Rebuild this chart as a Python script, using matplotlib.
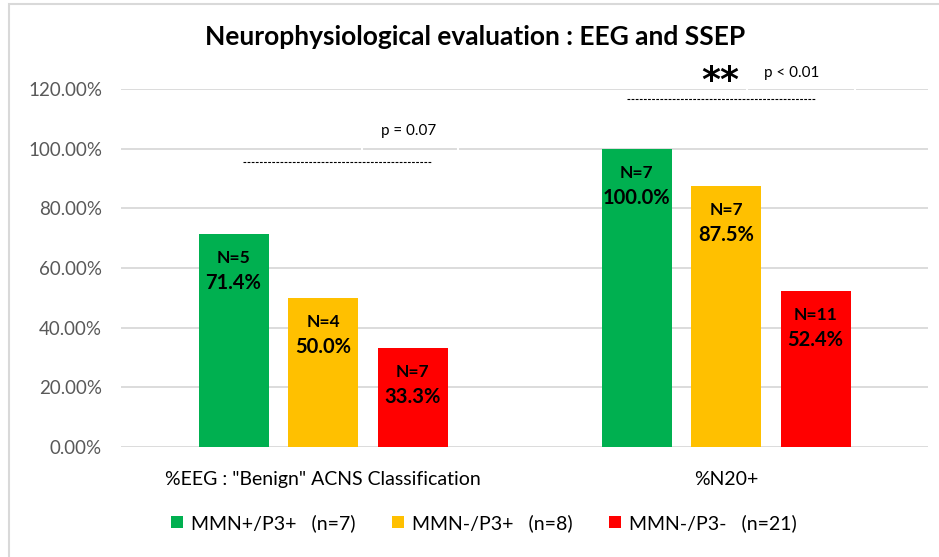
import matplotlib.pyplot as plt
import numpy as np
from matplotlib.patches import Rectangle
from matplotlib.ticker import PercentFormatter

# ====================== DATA ======================
categories = ['%EEG : "Benign" ACNS Classification', '%N20+']
groups = ['MMN+/P3+   (n=7)', 'MMN-/P3+   (n=8)', 'MMN-/P3-   (n=21)']
colors = ['#00B050', '#FFC000', '#FF0000']

pct_values = [
    [71.4, 100.0],   # MMN+/P3+
    [50.0, 87.5],    # MMN-/P3+
    [33.3, 52.4],    # MMN-/P3-
]
n_counts = [
    [5, 7],
    [4, 7],
    [7, 11],
]
p_labels = ['p = 0.07', 'p < 0.01']
stars = ['', '**']

# ====================== FIGURE ======================
plt.rcParams['font.family'] = ['Lato', 'DejaVu Sans']

fig = plt.figure(figsize=(9.39, 5.57), dpi=100)
W, H = 939, 557
ax = fig.add_axes([121.5 / W, 110 / H, 806 / W, 358 / H])

# outer light frame (Excel chart area border)
fig.patches.append(Rectangle((8.5 / W, -0.05), 1.2, (553 + 0.05 * H) / H,
                             transform=fig.transFigure, fill=False,
                             edgecolor='#D9D9D9', linewidth=1.5))

x = np.arange(len(categories))
bar_w = 70 / 403
step = 89.5 / 403

for i, (g, c) in enumerate(zip(groups, colors)):
    vals = np.array(pct_values[i]) / 100
    xs = x + (i - 1) * step
    ax.bar(xs, vals, width=bar_w, color=c, label=g, zorder=3)
    for xi, v, n in zip(xs, vals, n_counts[i]):
        ax.text(xi, v - 0.08, f'N={n}', ha='center', va='center',
                fontsize=12.5, fontweight='bold', zorder=4)
        ax.text(xi, v - 0.165, f'{v * 100:.1f}%', ha='center', va='center',
                fontsize=14.5, fontweight='bold', zorder=4)

ax.set_xlim(-0.5, 1.5)
ax.set_ylim(0, 1.2)
ax.set_yticks(np.arange(0, 1.21, 0.2))
ax.yaxis.set_major_formatter(PercentFormatter(1.0, decimals=2))
ax.grid(axis='y', color='#D9D9D9', linewidth=1.3, zorder=0)
ax.set_axisbelow(True)
for s in ax.spines.values():
    s.set_visible(False)
ax.tick_params(axis='y', length=0, labelsize=13.5, labelcolor='#595959', pad=14)
ax.tick_params(axis='x', length=0, labelsize=14, pad=17)
ax.set_xticks(x)
ax.set_xticklabels(categories)

# ====================== SIGNIFICANCE ANNOTATIONS ======================
ax.plot([-0.199, 0.270], [0.955, 0.955], color='black', lw=0.8,
        linestyle=(0, (2.5, 1.2)), clip_on=False, zorder=5)
ax.plot([0.754, 1.223], [1.167, 1.167], color='black', lw=0.8,
        linestyle=(0, (2.5, 1.2)), clip_on=False, zorder=5)
ax.text(0.213, 1.059, p_labels[0], ha='center', va='center', fontsize=11)
ax.text(1.164, 1.254, p_labels[1], ha='center', va='center', fontsize=11)
ax.text(0.985, 1.228, stars[1], ha='center', va='center', fontsize=26,
        fontweight='bold', family='DejaVu Sans')

# white text-box edges breaking the gridlines
for xb, yb in [(0.097, 1.0), (0.335, 1.0), (1.052, 1.2), (1.320, 1.2)]:
    ax.plot([xb, xb], [yb - 0.02, yb + 0.02], color='white', lw=1.5,
            zorder=1, clip_on=False)

# ====================== TITLE & LEGEND ======================
fig.text(475 / W, 1 - 37 / H, 'Neurophysiological evaluation : EEG and SSEP',
         ha='center', va='center', fontsize=19, fontweight='bold')

fig.legend(loc='center', bbox_to_anchor=(484 / W, 1 - 523 / H), ncol=3,
           frameon=False, fontsize=14, handlelength=0.6, handleheight=0.6,
           handletextpad=0.4, columnspacing=1.9)

fig.savefig('out.png', dpi=100)
